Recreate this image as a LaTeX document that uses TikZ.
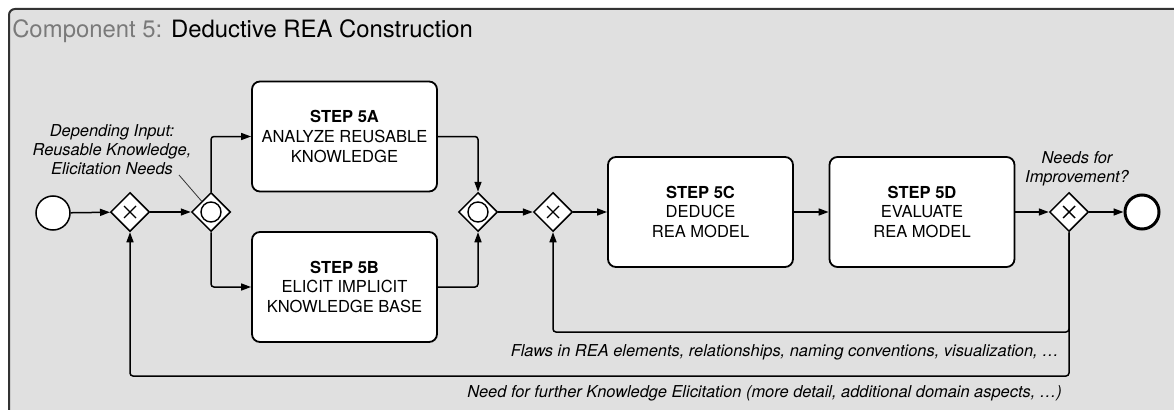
\documentclass[tikz,border=0pt]{standalone}
\usepackage{fontspec}
\setmainfont{TeX Gyre Heros}
\usetikzlibrary{shapes.geometric,arrows.meta}
\definecolor{poolfill}{HTML}{E0E0E0}
\definecolor{poolline}{HTML}{333333}
\definecolor{titlegray}{HTML}{7A7A7A}
\newlength{\px}\setlength{\px}{0.75pt}

\begin{document}
\begin{tikzpicture}[x=0.75pt,y=-0.75pt,
    task/.style={draw, line width=1.8\px, rounded corners=8\px, fill=white, inner sep=0pt,
        minimum width=185\px, minimum height=110\px, align=center,
        font=\fontsize{12.4pt}{14.8pt}\selectfont},
    gate/.style={diamond, draw, fill=white, line width=1.5\px, inner sep=0pt,
        minimum width=39\px, minimum height=39\px},
    xorgate/.style={gate, path picture={
        \draw[line width=1.4\px] (path picture bounding box.center) ++(-6,-6) -- ++(12,12)
            (path picture bounding box.center) ++(-6,6) -- ++(12,-12);}},
    orgate/.style={gate, path picture={
        \draw[line width=1.4\px] (path picture bounding box.center) circle (10);}},
    startevent/.style={circle, draw, fill=white, line width=1.5\px, inner sep=0pt, minimum size=34\px},
    endevent/.style={startevent, line width=3\px},
    flow/.style={line width=1.5\px, -{Triangle[length=7.5pt,width=5.25pt]}, rounded corners=2.25pt},
    note/.style={align=center, inner sep=0pt, font=\itshape\fontsize{12.3pt}{14.2pt}\selectfont}]
    \useasboundingbox (0,0) rectangle (1174,410);
    % pool
    \draw[fill=poolfill, draw=poolline, line width=2\px, rounded corners=6\px] (9,9) rectangle (1200,440);
    \node[anchor=base west, inner sep=0pt, font=\fontsize{17.9pt}{20pt}\selectfont] (title) at (12,37.3)
        {\textcolor{titlegray}{Component 5:} Deductive REA Construction};
    % events and gateways
    \node[startevent] (start) at (53,213) {};
    \node[xorgate] (gx1) at (130,212) {};
    \node[orgate] (gor1) at (211,212) {};
    \node[orgate] (gor2) at (478,212) {};
    \node[xorgate] (gx2) at (553,212) {};
    \node[xorgate] (gx3) at (1069,212) {};
    \node[endevent] (stop) at (1142,212) {};
    % tasks
    \node[task] (s5a) at (344.5,136.5) {\textbf{STEP 5A}\\ANALYZE REUSABLE\\KNOWLEDGE};
    \node[task] (s5b) at (344.5,287) {\textbf{STEP 5B}\\ELICIT IMPLICIT\\KNOWLEDGE BASE};
    \node[task] (s5c) at (700.5,212) {\textbf{STEP 5C}\\DEDUCE\\REA MODEL};
    \node[task] (s5d) at (922,212) {\textbf{STEP 5D}\\EVALUATE\\REA MODEL};
    % sequence flows
    \draw[flow] (start) -- (gx1);
    \draw[flow] (gx1) -- (gor1);
    \draw[flow] (gor1.north) |- (s5a.west);
    \draw[flow] (gor1.south) |- (s5b.west);
    \draw[flow] (s5a.east) -| (gor2.north);
    \draw[flow] (s5b.east) -| (gor2.south);
    \draw[flow] (gor2) -- (gx2);
    \draw[flow] (gx2) -- (s5c);
    \draw[flow] (s5c) -- (s5d);
    \draw[flow] (s5d) -- (gx3);
    \draw[flow] (gx3) -- (stop);
    % loops back
    \coordinate (fb1) at (0,332);
    \coordinate (fb2) at (0,376);
    \draw[flow] (gx3.south) -- (gx3 |- fb1) -| (gx2.south);
    \draw[flow] (gx3.south) -- (gx3 |- fb2) -| (gx1.south);
    % annotations
    \node[note] (input) at (112,150) {Depending Input:\\Reusable Knowledge,\\Elicitation Needs};
    \coordinate (inputtip) at (179,175);
    \draw[line width=0.8\px, poolline] (inputtip) -- (gor1);
    \node[note] (improve) at (1077,169) {Needs for\\Improvement?};
    \node[note, anchor=east] (flaws) at (1059,352)
        {Flaws in REA elements, relationships, naming conventions, visualization, \dots};
    \node[note, anchor=east] (further) at (1062,393)
        {Need for further Knowledge Elicitation (more detail, additional domain aspects, \dots)};
\end{tikzpicture}
\end{document}
